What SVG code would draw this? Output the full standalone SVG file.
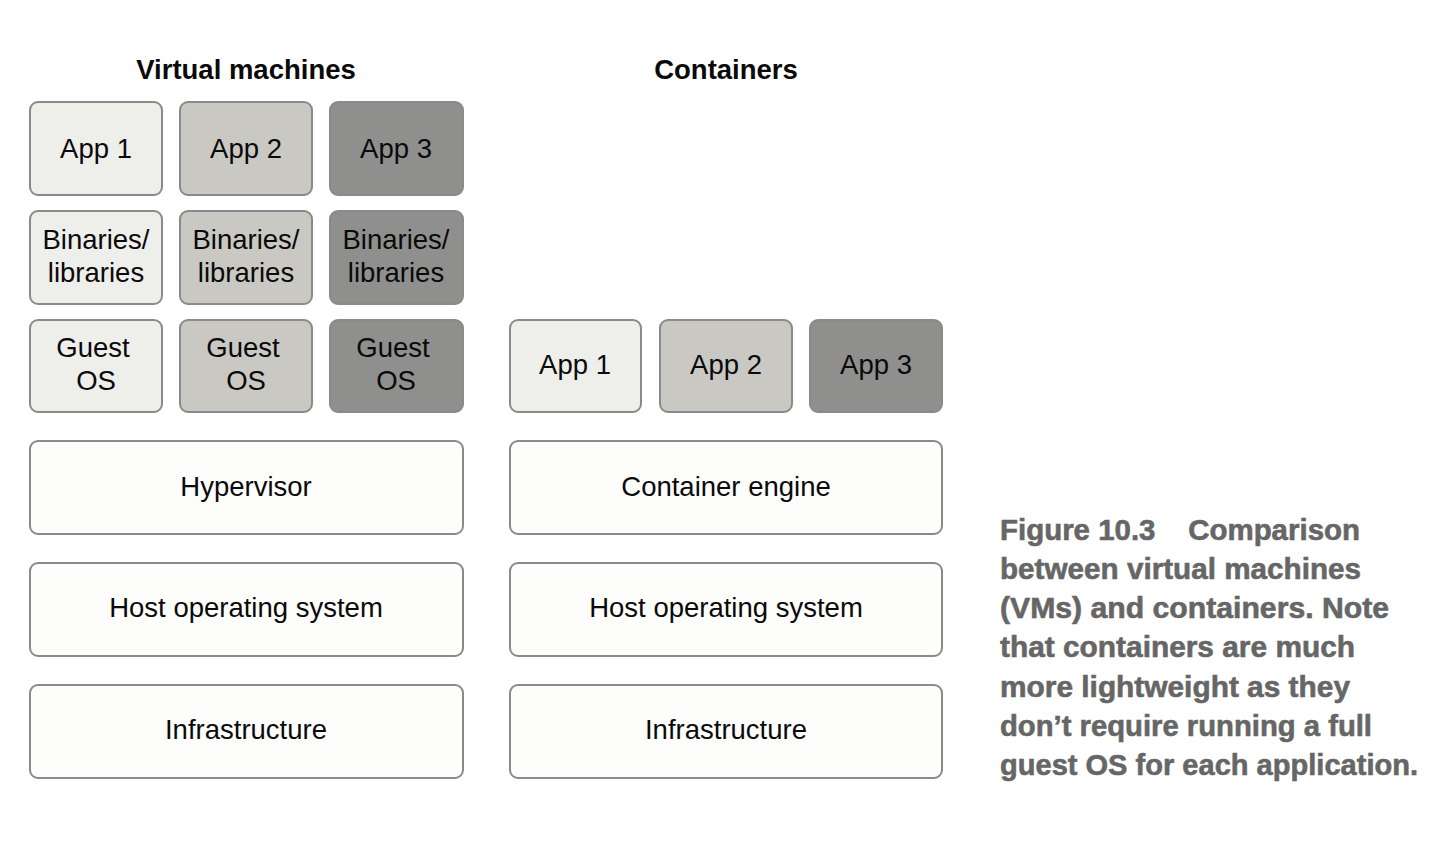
<svg xmlns="http://www.w3.org/2000/svg" width="1452" height="846" viewBox="0 0 1452 846">
<style>
.b{stroke:#8a8a8a;stroke-width:2}
.l{fill:#eeeeeb}.m{fill:#c9c8c3}.d{fill:#8f8f8e}.w{fill:#fdfdfb}
.t{font-family:"Liberation Sans",Arial,sans-serif;font-size:27.5px;fill:#0a0a0a;text-anchor:middle}
.h{font-family:"Liberation Sans",Arial,sans-serif;font-size:27.5px;font-weight:bold;fill:#0a0a0a;text-anchor:middle}
.c{font-family:"Liberation Sans",Arial,sans-serif;font-size:30px;font-weight:bold;fill:#666;stroke:#666;stroke-width:0.6}
</style>
<rect width="1452" height="846" fill="#fff"/>
<text class="h" x="246" y="79">Virtual machines</text>
<text class="h" x="726" y="79">Containers</text>
<g id="vm-app1"><rect class="b l" x="30" y="102" width="132" height="93" rx="8"/><text class="t" x="96" y="158">App 1</text></g>
<g id="vm-app2"><rect class="b m" x="180" y="102" width="132" height="93" rx="8"/><text class="t" x="246" y="158">App 2</text></g>
<g id="vm-app3"><rect class="b d" x="330" y="102" width="133" height="93" rx="8"/><text class="t" x="396" y="158">App 3</text></g>
<g id="vm-bin1"><rect class="b l" x="30" y="211" width="132" height="93" rx="8"/><text class="t" x="96" y="249">Binaries/</text><text class="t" x="96" y="282">libraries</text></g>
<g id="vm-bin2"><rect class="b m" x="180" y="211" width="132" height="93" rx="8"/><text class="t" x="246" y="249">Binaries/</text><text class="t" x="246" y="282">libraries</text></g>
<g id="vm-bin3"><rect class="b d" x="330" y="211" width="133" height="93" rx="8"/><text class="t" x="396" y="249">Binaries/</text><text class="t" x="396" y="282">libraries</text></g>
<g id="vm-os1"><rect class="b l" x="30" y="320" width="132" height="92" rx="8"/><text class="t" x="93" y="357">Guest</text><text class="t" x="96" y="390">OS</text></g>
<g id="vm-os2"><rect class="b m" x="180" y="320" width="132" height="92" rx="8"/><text class="t" x="243" y="357">Guest</text><text class="t" x="246" y="390">OS</text></g>
<g id="vm-os3"><rect class="b d" x="330" y="320" width="133" height="92" rx="8"/><text class="t" x="393" y="357">Guest</text><text class="t" x="396" y="390">OS</text></g>
<g id="vm-hyp"><rect class="b w" x="30" y="441" width="433" height="93" rx="8"/><text class="t" x="246" y="496">Hypervisor</text></g>
<g id="vm-host"><rect class="b w" x="30" y="563" width="433" height="93" rx="8"/><text class="t" x="246" y="617">Host operating system</text></g>
<g id="vm-infra"><rect class="b w" x="30" y="685" width="433" height="93" rx="8"/><text class="t" x="246" y="739">Infrastructure</text></g>
<g id="c-app1"><rect class="b l" x="510" y="320" width="131" height="92" rx="8"/><text class="t" x="575" y="374">App 1</text></g>
<g id="c-app2"><rect class="b m" x="660" y="320" width="132" height="92" rx="8"/><text class="t" x="726" y="374">App 2</text></g>
<g id="c-app3"><rect class="b d" x="810" y="320" width="132" height="92" rx="8"/><text class="t" x="876" y="374">App 3</text></g>
<g id="c-engine"><rect class="b w" x="510" y="441" width="432" height="93" rx="8"/><text class="t" x="726" y="496">Container engine</text></g>
<g id="c-host"><rect class="b w" x="510" y="563" width="432" height="93" rx="8"/><text class="t" x="726" y="617">Host operating system</text></g>
<g id="c-infra"><rect class="b w" x="510" y="685" width="432" height="93" rx="8"/><text class="t" x="726" y="739">Infrastructure</text></g>
<g id="connectors"></g>
<g id="caption">
<text class="c" x="1000" y="540" textLength="360" lengthAdjust="spacingAndGlyphs" xml:space="preserve">Figure 10.3    Comparison</text>
<text class="c" x="1000" y="579" textLength="361" lengthAdjust="spacingAndGlyphs">between virtual machines</text>
<text class="c" x="1000" y="618" textLength="389" lengthAdjust="spacingAndGlyphs">(VMs) and containers. Note</text>
<text class="c" x="1000" y="657" textLength="355" lengthAdjust="spacingAndGlyphs">that containers are much</text>
<text class="c" x="1000" y="697" textLength="350" lengthAdjust="spacingAndGlyphs">more lightweight as they</text>
<text class="c" x="1000" y="736" textLength="372" lengthAdjust="spacingAndGlyphs">don’t require running a full</text>
<text class="c" x="1000" y="775" textLength="418" lengthAdjust="spacingAndGlyphs">guest OS for each application.</text>
</g>
</svg>
